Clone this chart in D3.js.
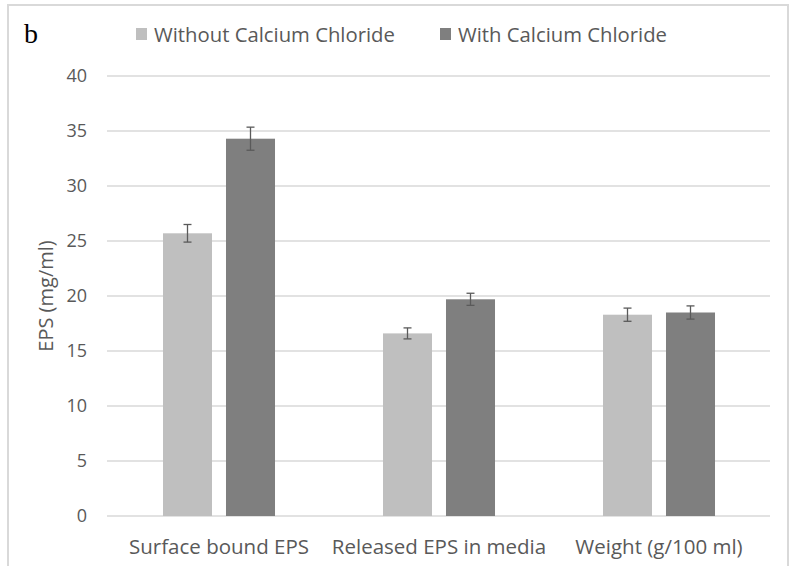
<!DOCTYPE html>
<html><head><meta charset="utf-8">
<script src="https://cdn.jsdelivr.net/npm/d3@7"></script>
<style>html,body{margin:0;padding:0;background:#fff;} svg{display:block;}</style>
</head><body>
<svg id="chart" width="793" height="566"></svg>
<script>
const categories = ["Surface bound EPS", "Released EPS in media", "Weight (g/100 ml)"];
const seriesNames = ["Without Calcium Chloride", "With Calcium Chloride"];
const withoutCaCl = [25.7, 16.6, 18.3];
const withCaCl = [34.3, 19.7, 18.5];
const withoutErr = [0.8, 0.5, 0.6];
const withErr = [1.05, 0.55, 0.6];
const yTicks = [0, 5, 10, 15, 20, 25, 30, 35, 40];
const colors = ["#bfbfbf", "#7f7f7f"];

const svg = d3.select("#chart");
const font = "'Open Sans', sans-serif";
const textColor = "#595959";

// border
svg.append("rect").attr("x", 8).attr("y", 5).attr("width", 780).attr("height", 580)
  .attr("fill", "none").attr("stroke", "#d9d9d9").attr("stroke-width", 2);

const x0 = d3.scaleBand().domain(categories).range([109, 769]);
const x1 = d3.scaleBand().domain(seriesNames).range([0, x0.bandwidth()]).paddingInner(0.222).paddingOuter(0.857);
const y = d3.scaleLinear().domain([0, 40]).range([516, 76]);

// gridlines
svg.append("g").selectAll("line").data(yTicks).join("line")
  .attr("x1", 107).attr("x2", 770)
  .attr("y1", d => y(d)).attr("y2", d => y(d))
  .attr("stroke", "#d9d9d9").attr("stroke-width", 1.3);

// y axis labels
const yAxis = d3.axisLeft(y).tickValues(yTicks).tickSize(0).tickPadding(0);
const gy = svg.append("g").attr("transform", "translate(87,0)").call(yAxis);
gy.select(".domain").remove();
gy.selectAll("text").attr("font-family", font).attr("font-size", 18).attr("fill", textColor);

// bars
const data = [withoutCaCl, withCaCl];
const errs = [withoutErr, withErr];
seriesNames.forEach((s, si) => {
  const g = svg.append("g");
  g.selectAll("rect").data(categories).join("rect")
    .attr("x", c => x0(c) + x1(s))
    .attr("width", x1.bandwidth())
    .attr("y", (c, i) => y(data[si][i]))
    .attr("height", (c, i) => y(0) - y(data[si][i]))
    .attr("fill", colors[si]);
  const eg = svg.append("g").attr("stroke", "#5a5a5a").attr("stroke-width", 1.3);
  categories.forEach((c, i) => {
    const cx = x0(c) + x1(s) + x1.bandwidth() / 2;
    const top = y(data[si][i] + errs[si][i]);
    const bot = y(data[si][i] - errs[si][i]);
    eg.append("line").attr("x1", cx).attr("x2", cx).attr("y1", top).attr("y2", bot);
    eg.append("line").attr("x1", cx - 4).attr("x2", cx + 4).attr("y1", top).attr("y2", top);
    eg.append("line").attr("x1", cx - 4).attr("x2", cx + 4).attr("y1", bot).attr("y2", bot);
  });
});

// x axis labels
const xAxis = d3.axisBottom(x0).tickSize(0).tickPadding(0);
const gx = svg.append("g").attr("transform", "translate(0,539)").call(xAxis);
gx.select(".domain").remove();
gx.selectAll("text").attr("font-family", font).attr("font-size", 20.5).attr("fill", textColor);

// y axis title
svg.append("text").attr("transform", "translate(53,296) rotate(-90)")
  .attr("text-anchor", "middle").attr("font-family", font).attr("font-size", 20)
  .attr("fill", textColor).text("EPS (mg/ml)");

// panel letter
svg.append("text").attr("x", 24).attr("y", 43).attr("font-family", "'Liberation Serif', serif")
  .attr("font-size", 28).attr("fill", "#000").text("b");

// legend
const legX = [136, 440];
seriesNames.forEach((s, i) => {
  svg.append("rect").attr("x", legX[i]).attr("y", 28).attr("width", 11).attr("height", 12).attr("fill", colors[i]);
  svg.append("text").attr("x", legX[i] + 18).attr("y", 42).attr("font-family", font)
    .attr("font-size", 20.3).attr("fill", textColor).text(s);
});
</script>
</body></html>
